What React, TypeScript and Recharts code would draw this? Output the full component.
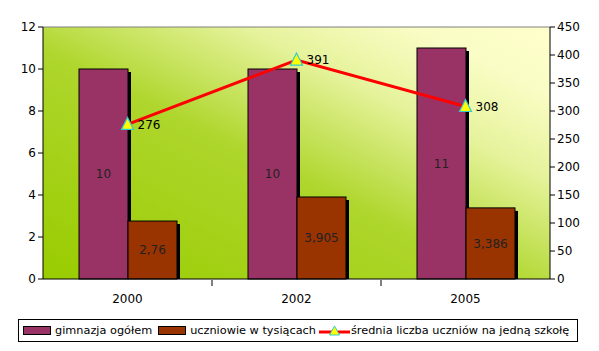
import React from 'react';
import {
  ComposedChart,
  Bar,
  Line,
  XAxis,
  YAxis,
  CartesianGrid,
  LabelList,
  ReferenceLine,
} from 'recharts';

const years = ['2000', '2002', '2005'];
const gimnazja = [10, 10, 11];
const uczniowie = [2.76, 3.905, 3.386];
const srednia = [276, 391, 308];
const leftTicks = [0, 2, 4, 6, 8, 10, 12];
const rightTicks = [0, 50, 100, 150, 200, 250, 300, 350, 400, 450];
const seriesNames = ['gimnazja ogółem', 'uczniowie w tysiącach', 'średnia liczba uczniów na jedną szkołę'];

const data = years.map((year, i) => ({
  year,
  gimnazja: gimnazja[i],
  uczniowie: uczniowie[i],
  srednia: srednia[i],
}));

const FONT = '"DejaVu Sans", Verdana, sans-serif';
const PLOT_W = 507;

const fmtComma = (v: any) => String(v).replace('.', ',');

const ShadowBar = (props: any) => {
  const { x, y, width, height, fill } = props;
  if (!height || height <= 0) return null;
  return (
    <g>
      <rect x={x + 3} y={y + 3} width={width} height={height - 3} fill="#000" />
      <rect x={x} y={y} width={width} height={height} fill={fill} stroke="#000" strokeWidth={1} />
    </g>
  );
};

const Triangle = (props: any) => {
  const { cx, cy } = props;
  if (cx == null || cy == null) return null;
  return (
    <polygon
      points={`${cx},${cy - 7} ${cx - 6},${cy + 5} ${cx + 6},${cy + 5}`}
      fill="#FFFF00"
      stroke="#33CCCC"
      strokeWidth={1.2}
    />
  );
};

const XTick = (props: any) => {
  const { x, y, payload, index } = props;
  const band = PLOT_W / years.length;
  return (
    <g>
      {index < years.length - 1 && (
        <line x1={x + band / 2} y1={y - 7} x2={x + band / 2} y2={y - 1} stroke="#000" />
      )}
      <text x={x} y={y + 16} textAnchor="middle" fontSize={12} fill="#000" fontFamily={FONT}>
        {payload.value}
      </text>
    </g>
  );
};

const Legend = () => (
  <div
    style={{
      position: 'absolute',
      left: 18,
      top: 319,
      width: 558,
      height: 21,
      border: '1px solid #000',
      background: '#fff',
      display: 'flex',
      alignItems: 'center',
      fontFamily: FONT,
      fontSize: 11.3,
      color: '#000',
      whiteSpace: 'nowrap',
      boxSizing: 'content-box',
    }}
  >
    <span style={{ display: 'inline-block', width: 26, height: 7, background: '#993366', border: '1px solid #000', marginLeft: 4, marginRight: 4 }} />
    <span>{seriesNames[0]}</span>
    <span style={{ display: 'inline-block', width: 26, height: 7, background: '#993300', border: '1px solid #000', marginLeft: 6, marginRight: 4 }} />
    <span>{seriesNames[1]}</span>
    <svg width={31} height={14} style={{ marginLeft: 3, marginRight: 1 }}>
      <line x1={0} y1={8} x2={31} y2={8} stroke="#FF0000" strokeWidth={3} />
      <polygon points="15.5,2 10.5,11 20.5,11" fill="#FFFF00" stroke="#33CCCC" strokeWidth={1} />
    </svg>
    <span>{seriesNames[2]}</span>
  </div>
);

export default function App() {
  return (
    <div style={{ position: 'absolute', left: 0, top: 0, width: 599, height: 351, background: '#fff', fontFamily: FONT }}>
      <ComposedChart
        width={599}
        height={351}
        data={data}
        margin={{ top: 27, right: 0, bottom: 42, left: 0 }}
        barGap={0}
      >
        <defs>
          <linearGradient id="bgGrad" x1="0" y1="1" x2="1" y2="0">
            <stop offset="0%" stopColor="#99CC00" />
            <stop offset="45%" stopColor="#AED62C" />
            <stop offset="70%" stopColor="#E6F39C" />
            <stop offset="86%" stopColor="#F9FCC4" />
            <stop offset="100%" stopColor="#FFFFCC" />
          </linearGradient>
        </defs>
        <CartesianGrid fill="url(#bgGrad)" horizontal={false} vertical={false} />
        <XAxis
          dataKey="year"
          height={30}
          axisLine={{ stroke: '#000' }}
          tickLine={false}
          tick={<XTick />}
          interval={0}
        />
        <YAxis
          yAxisId="left"
          width={43}
          domain={[0, 12]}
          ticks={leftTicks}
          interval={0}
          axisLine={{ stroke: '#000' }}
          tickLine={{ stroke: '#000' }}
          tickSize={5}
          tick={{ fontSize: 12, fill: '#000', fontFamily: FONT }}
        />
        <YAxis
          yAxisId="right"
          orientation="right"
          width={49}
          domain={[0, 450]}
          ticks={rightTicks}
          interval={0}
          axisLine={{ stroke: '#000' }}
          tickLine={{ stroke: '#000' }}
          tickSize={5}
          tick={{ fontSize: 12, fill: '#000', fontFamily: FONT }}
        />
        <ReferenceLine yAxisId="left" y={12} stroke="#808080" strokeWidth={1} />
        <Bar yAxisId="left" dataKey="gimnazja" fill="#993366" barSize={49} shape={<ShadowBar />} isAnimationActive={false}>
          <LabelList dataKey="gimnazja" position="center" fill="#222" fontSize={12} fontFamily={FONT} formatter={fmtComma} />
        </Bar>
        <Bar yAxisId="left" dataKey="uczniowie" fill="#993300" barSize={49} shape={<ShadowBar />} isAnimationActive={false}>
          <LabelList dataKey="uczniowie" position="center" fill="#222" fontSize={12} fontFamily={FONT} formatter={fmtComma} />
        </Bar>
        <Line
          yAxisId="right"
          dataKey="srednia"
          type="linear"
          stroke="#FF0000"
          strokeWidth={3}
          dot={<Triangle />}
          activeDot={false}
          isAnimationActive={false}
        >
          <LabelList dataKey="srednia" position="right" offset={10} fill="#000" fontSize={12} fontFamily={FONT} />
        </Line>
      </ComposedChart>
      <Legend />
    </div>
  );
}
